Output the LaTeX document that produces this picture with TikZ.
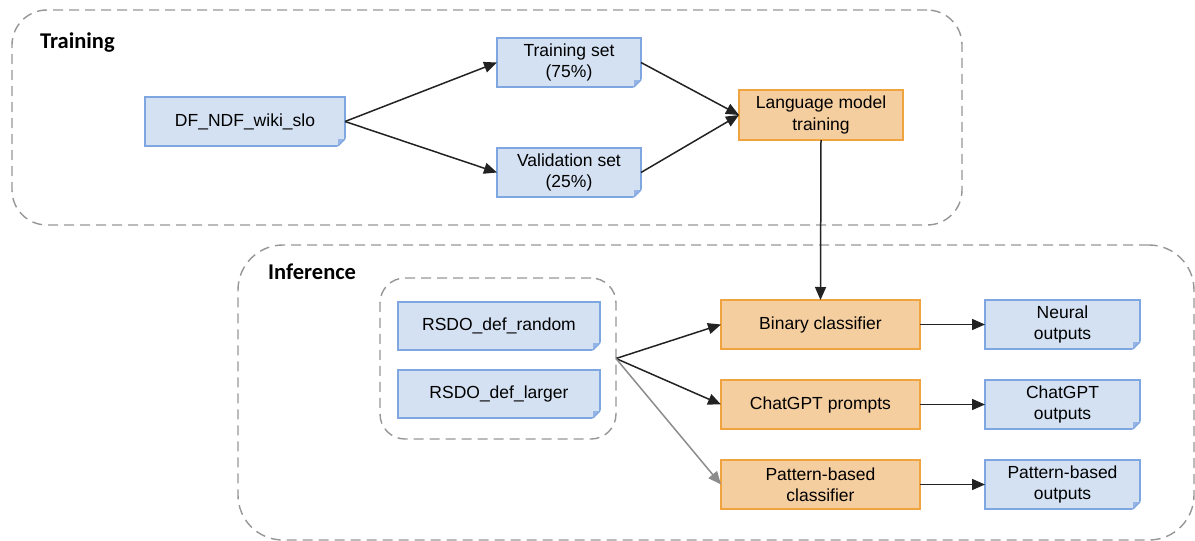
\documentclass[tikz,border=0pt]{standalone}
\usepackage{fontspec}
\setmainfont{Liberation Sans}
\newfontfamily\titlefont{Carlito}
\usetikzlibrary{arrows.meta,calc}
\definecolor{bfill}{RGB}{212,225,242}
\definecolor{bdraw}{RGB}{126,166,224}
\definecolor{bfold}{RGB}{150,180,230}
\definecolor{ofill}{RGB}{245,206,160}
\definecolor{odraw}{RGB}{240,164,64}
\definecolor{dashc}{RGB}{150,150,150}
\definecolor{arrc}{RGB}{34,34,34}
\definecolor{grayarr}{RGB}{140,140,140}
\newcommand\docfold[1]{%
  \fill[white] ([xshift=-8pt,yshift=-1pt]#1.south east) -- ([xshift=1pt,yshift=-1pt]#1.south east) -- ([xshift=1pt,yshift=8pt]#1.south east) -- cycle;
  \fill[bfold] ([xshift=-7pt]#1.south east) -- ([xshift=-7pt,yshift=7pt]#1.south east) -- ([yshift=7pt]#1.south east) -- cycle;
  \draw[bdraw,line width=1.2pt] ([xshift=-7pt]#1.south east) -- ([yshift=7pt]#1.south east);}
\tikzset{
  x=1pt,y=-1pt,
  docbox/.style={rectangle,draw=bdraw,fill=bfill,line width=1.2pt,outer sep=0pt,inner sep=0pt,align=center,
    font=\fontsize{17.5}{21.5}\selectfont,minimum height=49pt},
  procbox/.style={rectangle,draw=odraw,fill=ofill,line width=1.2pt,outer sep=0pt,inner sep=0pt,align=center,
    font=\fontsize{17.5}{21.5}\selectfont,minimum height=49pt},
  container/.style={draw=dashc,line width=1.4pt,dash pattern=on 10pt off 6pt,rectangle,inner sep=0pt,outer sep=0pt},
  flow/.style={draw=arrc,line width=1.5pt,-{Triangle[length=13pt,width=11pt]}},
  grayflow/.style={draw=grayarr,line width=1.5pt,-{Triangle[length=13pt,width=11pt]}},
  ttl/.style={font=\titlefont\bfseries\fontsize{22.5}{26}\selectfont,anchor=base west,inner sep=0pt},
}
\begin{document}
\begin{tikzpicture}
\useasboundingbox (0,0) rectangle (1195,541);
% containers
\node[container,rounded corners=35pt,minimum width=950pt,minimum height=215pt] (train) at (487,117.5) {};
\node[container,rounded corners=45pt,minimum width=956pt,minimum height=295pt] (infer) at (716,392.5) {};
\node[container,rounded corners=25pt,minimum width=236pt,minimum height=161pt] (grp) at (498,358.5) {};
\node[ttl] (ttrain) at (40,48) {Training};
\node[ttl] (tinfer) at (268,279) {Inference};
% training nodes
\node[docbox,minimum width=200pt] (df) at (245,121.5) {DF\_NDF\_wiki\_slo};
\node[docbox,minimum width=144pt] (ts) at (569,62.5) {Training set\\(75\%)};
\node[docbox,minimum width=144pt] (vs) at (569,172.5) {Validation set\\(25\%)};
\node[procbox,minimum width=164pt,minimum height=50pt] (lm) at (821,115) {Language model\\training};
% inference nodes
\node[docbox,minimum width=202pt,minimum height=48pt] (rr) at (499,326) {RSDO\_def\_random};
\node[docbox,minimum width=202pt,minimum height=48pt] (rl) at (499,394) {RSDO\_def\_larger};
\node[procbox,minimum width=199pt] (bc) at (820.5,324.5) {Binary classifier};
\node[procbox,minimum width=199pt] (cp) at (820.5,404.5) {ChatGPT prompts};
\node[procbox,minimum width=199pt] (pc) at (820.5,484.5) {Pattern-based\\classifier};
\node[docbox,minimum width=155pt] (no) at (1062.5,324.5) {Neural\\outputs};
\node[docbox,minimum width=155pt] (co) at (1062.5,404.5) {ChatGPT\\outputs};
\node[docbox,minimum width=155pt] (po) at (1062.5,484.5) {Pattern-based\\outputs};
\docfold{df}\docfold{ts}\docfold{vs}\docfold{rr}\docfold{rl}\docfold{no}\docfold{co}\docfold{po}
% connectors
\draw[flow] (df.east) -- (ts.west);
\draw[flow] (df.east) -- (vs.west);
\draw[flow] (ts.east) -- (lm.west);
\draw[flow] (vs.east) -- (lm.west);
\draw[flow] (lm.south) -- (bc.north);
\draw[flow] (grp.east) -- (bc.west);
\draw[flow] (grp.east) -- (cp.west);
\draw[grayflow] (grp.east) -- (pc.west);
\draw[flow] (bc.east) -- (no.west);
\draw[flow] (cp.east) -- (co.west);
\draw[flow] (pc.east) -- (po.west);
\end{tikzpicture}
\end{document}
